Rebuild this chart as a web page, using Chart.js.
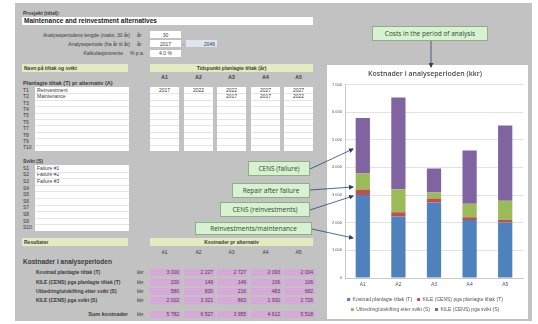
<!DOCTYPE html>
<html>
<head>
<meta charset="utf-8">
<script src="https://cdn.jsdelivr.net/npm/chart.js@4.4.0/dist/chart.umd.min.js"></script>
<style>
  body { margin: 0; width: 538px; height: 324px; background: #fff; overflow: hidden; position: relative;
         font-family: "Liberation Sans", Arial, sans-serif; }
  .abs { position: absolute; }
  .t { position: absolute; font-size: 5px; line-height: 5px; color: #3a3a3a; white-space: nowrap; }
  .b { font-weight: bold; }
  .white { position: absolute; background: #fff; }
  .grn { position: absolute; background: #e3ebc3; }
  .pink { position: absolute; background: #d6a9d8; font-size: 5px; line-height: 7px; color: #4a3a4a; text-align: right; box-sizing: border-box; padding-right: 2px; }
  .call { position: absolute; background: #d8f1d2; border: 1px solid #8db07f; box-sizing: border-box;
          font-family: "Open Sans", sans-serif; font-size: 6.5px; color: #2c4a28; text-align: center; white-space: nowrap; }
  #sheet { position: absolute; left: 15px; top: 3px; width: 517px; height: 318px; background: #c2c2c2; }
  #chartbox { position: absolute; left: 327px; top: 65px; width: 201px; height: 254px; background: #fff; }
  #myChart { position: absolute; left: 327px; top: 70px; }
</style>
</head>
<body>
<div id="sheet"></div>
<div id="chartbox"></div>
<canvas id="myChart" width="201" height="252"></canvas>
<div id="layer"></div>
<svg class="abs" style="left:0;top:0" width="538" height="324">
  <defs>
    <marker id="ah" markerWidth="5" markerHeight="5" refX="4" refY="2.5" orient="auto" markerUnits="userSpaceOnUse">
      <path d="M0,0 L5,2.5 L0,5 z" fill="#24466e"/>
    </marker>
  </defs>
  <g stroke="#24466e" stroke-width="0.8" marker-end="url(#ah)">
    <line x1="431" y1="41" x2="431" y2="67"/>
    <line x1="310" y1="169" x2="353" y2="149"/>
    <line x1="310" y1="190" x2="353" y2="187"/>
    <line x1="310" y1="210" x2="353" y2="196"/>
    <line x1="312" y1="229" x2="353" y2="238"/>
  </g>
</svg>
<script>
// chart data
const categories = ["A1", "A2", "A3", "A4", "A5"];
const seriesNames = [
  "Kostnad planlagte tiltak (T)",
  "KILE (CENS) pga planlagte tiltak (T)",
  "Utbedring/utskifting etter svikt (S)",
  "KILE (CENS) pga svikt (S)"
];
const kostnadPlanlagte = [3000, 2227, 2727, 2093, 2004];
const kilePlanlagte = [200, 149, 149, 106, 106];
const utbedringSvikt = [580, 830, 216, 483, 682];
const kileSvikt = [2002, 3321, 863, 1930, 2726];
const seriesColors = ["#4f81bd", "#c0504d", "#9bbb59", "#8064a2"];
const yTicks = [0, 1000, 2000, 3000, 4000, 5000, 6000, 7000];

// sheet data
const tiltakNames = ["Reinvestment", "Maintenance"];
const sviktNames = ["Failure #1", "Failure #2", "Failure #3"];
const plannedYears = [["2017", ""], ["2022", ""], ["2022", "2017"], ["2027", "2017"], ["2027", "2022"]];
const resultLabels = seriesNames;

const colX = [150, 184, 217, 251, 284];
const colW = 29;
const layer = document.getElementById("layer");
const fmt = v => String(v).replace(/\B(?=(\d{3})+(?!\d))/g, " ");

function el(cls, x, y, w, h, txt, style) {
  const d = document.createElement("div");
  d.className = cls;
  d.style.left = x + "px"; d.style.top = y + "px";
  if (w != null) d.style.width = w + "px";
  if (h != null) d.style.height = h + "px";
  if (txt != null) d.textContent = txt;
  if (style) d.style.cssText += style;
  layer.appendChild(d);
  return d;
}
function txt(x, y, s, bold, style) { return el("t" + (bold ? " b" : ""), x, y - 2.5, null, null, s, style); }
function rtxt(xr, y, s, bold, style) { return el("t" + (bold ? " b" : ""), xr - 200, y - 2.5, 200, null, s, "text-align:right;" + (style || "")); }

// header
txt(23, 13, "Prosjekt (tittel):", true);
el("white", 22, 17, 291, 8);
txt(24, 21, "Maintenance and reinvestment alternatives", true, "font-size:6.5px;line-height:6.5px;top:18px;color:#222");
rtxt(130, 35, "Analyseperiodens lengde (maks. 30 år)");
txt(137, 35, "år");
el("white", 150, 31, 31, 7);
txt(150, 35, "30", false, "width:31px;text-align:center");
rtxt(130, 44, "Analyseperiode (fra år til år)");
txt(137, 44, "år");
el("white", 150, 40, 31, 7);
txt(150, 44, "2017", false, "width:31px;text-align:center");
txt(183, 44, "-");
el("white", 186, 40, 31, 7, null, "background:#dde4f2");
rtxt(215, 44, "2046");
rtxt(123, 53, "Kalkulasjonsrente");
txt(130, 53, "% p.a.");
el("white", 150, 50, 31, 7);
txt(150, 53, "4.0 %", false, "width:31px;text-align:center");

// planned measures
el("grn", 22, 64, 106, 8);
txt(24, 68, "Navn på tiltak og svikt", true);
el("grn", 150, 64, 163, 8);
txt(150, 68, "Tidspunkt planlagte tiltak (år)", true, "width:163px;text-align:center");
categories.forEach((c, i) => txt(colX[i], 77, c, true, "width:" + colW + "px;text-align:center"));
txt(23, 83, "Planlagte tiltak (T) pr alternativ (A)", true, "font-size:5.5px");

const rowH = 6.4;
el("white", 35, 87, 94, 64);
for (let i = 0; i < 10; i++) {
  const y = 87 + rowH * i + rowH / 2;
  txt(23, y, "T" + (i + 1));
  if (tiltakNames[i]) txt(37, y, tiltakNames[i]);
  if (i > 0) el("abs", 35, 87 + rowH * i, 94, 0.5, null, "background:#e6e6e6");
}
colX.forEach((x, a) => {
  el("white", x, 87, colW, 64);
  for (let i = 1; i < 10; i++) el("abs", x, 87 + rowH * i, colW, 0.5, null, "background:#e6e6e6");
  plannedYears[a].forEach((yr, i) => { if (yr) txt(x, 87 + rowH * i + rowH / 2, yr, false, "width:" + colW + "px;text-align:center"); });
});

// failures
txt(23, 161, "Svikt (S)", true);
el("white", 35, 165, 94, 66);
for (let i = 0; i < 10; i++) {
  const y = 165 + 6.6 * i + 3.3;
  txt(23, y, "S" + (i + 1));
  if (sviktNames[i]) txt(37, y, sviktNames[i]);
  if (i > 0) el("abs", 35, 165 + 6.6 * i, 94, 0.5, null, "background:#e6e6e6");
}

// results
el("grn", 22, 238, 106, 8);
txt(24, 242, "Resultater", true);
el("grn", 150, 238, 163, 8);
txt(150, 242, "Kostnader pr alternativ", true, "width:163px;text-align:center");
categories.forEach((c, i) => txt(colX[i], 252, c, false, "width:" + colW + "px;text-align:center"));
txt(23, 262, "Kostnader i analyseperioden", true, "font-size:6.5px;line-height:6.5px;top:259px");
const seriesData = [kostnadPlanlagte, kilePlanlagte, utbedringSvikt, kileSvikt];
const rowY = [272, 282, 291, 300];
seriesData.forEach((arr, r) => {
  txt(36, rowY[r], resultLabels[r], true);
  txt(137, rowY[r], "kkr");
  arr.forEach((v, a) => el("pink", colX[a], rowY[r] - 3.5, colW + 2, 7, fmt(v)));
});
rtxt(128, 314, "Sum kostnader", true, "font-size:5.5px");
txt(137, 314, "kkr");
categories.forEach((c, a) => {
  const s = seriesData.reduce((acc, arr) => acc + arr[a], 0);
  el("pink", colX[a], 310.5, colW + 2, 7, fmt(s));
});

// callouts
el("call", 372, 26, 116, 15, "Costs in the period of analysis", "line-height:13px");
el("call", 248, 161, 62, 15, "CENS (failure)", "line-height:13px");
el("call", 232, 183, 78, 15, "Repair after failure", "line-height:13px");
el("call", 220, 202, 90, 15, "CENS (reinvestments)", "line-height:13px");
el("call", 195, 222, 117, 13, "Reinvestments/maintenance", "line-height:11px");

// chart
new Chart("myChart", {
  type: "bar",
  data: {
    labels: categories,
    datasets: seriesData.map((d, i) => ({
      label: seriesNames[i],
      data: d,
      backgroundColor: seriesColors[i],
      barPercentage: 0.4,
      categoryPercentage: 1
    }))
  },
  options: {
    responsive: false,
    animation: false,
    layout: { padding: { left: 0, right: 5, top: 0, bottom: 0 } },
    plugins: {
      title: {
        display: true,
        text: "Kostnader i analyseperioden (kkr)",
        color: "#4a4a4a",
        font: { family: "Open Sans", size: 7, weight: "600" },
        padding: { top: 0, bottom: 6 }
      },
      legend: {
        position: "bottom",
        labels: { boxWidth: 3, boxHeight: 3, padding: 5, color: "#555", font: { size: 5 } }
      },
      tooltip: { enabled: false }
    },
    scales: {
      x: {
        stacked: true,
        grid: { display: false, drawTicks: false },
        border: { color: "#c8c8c8" },
        ticks: { color: "#555", font: { size: 5 }, padding: 4, autoSkip: false, maxRotation: 0 }
      },
      y: {
        stacked: true,
        min: 0,
        max: 7000,
        afterBuildTicks: s => { s.ticks = yTicks.map(v => ({ value: v })); },
        ticks: { color: "#555", font: { size: 4 }, padding: 3, callback: v => fmt(v) },
        grid: { color: "#e2e2e2", drawTicks: false },
        border: { color: "#c8c8c8" },
        afterFit: s => { s.width = 18; }
      }
    }
  }
});
</script>
</body>
</html>
